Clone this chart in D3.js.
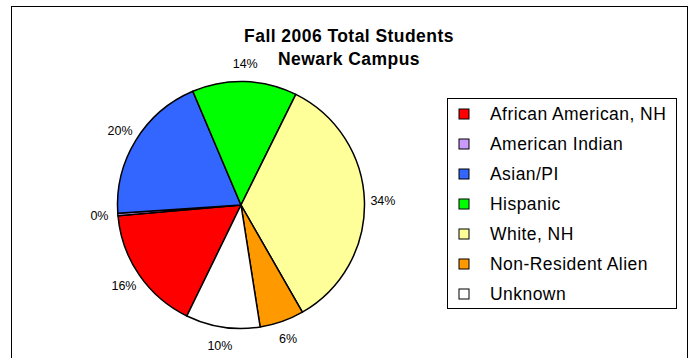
<!DOCTYPE html>
<html>
<head>
<meta charset="utf-8">
<script src="https://cdn.jsdelivr.net/npm/d3@7"></script>
<style>
  html, body { margin: 0; padding: 0; background: #fff; }
  svg { display: block; font-family: "Liberation Sans", Arial, sans-serif; }
</style>
</head>
<body>
<svg id="chart" width="696" height="358"></svg>
<script>
// Enrollment by ethnicity, Fall 2006, Newark campus (share of total, %)
const categories = [
  "African American, NH",
  "American Indian",
  "Asian/PI",
  "Hispanic",
  "White, NH",
  "Non-Resident Alien",
  "Unknown"
];
const shares = [16.4, 0.3, 19.7, 13.7, 34.4, 5.8, 9.7];
const colors = ["#FF0000", "#CC99FF", "#3366FF", "#00FF00", "#FFFF99", "#FF9900", "#FFFFFF"];
const titleLines = ["Fall 2006 Total Students", "Newark Campus"];

const svg = d3.select("#chart");

// chart frame
svg.append("rect")
  .attr("x", 11.5).attr("y", 6.5)
  .attr("width", 676).attr("height", 360)
  .attr("fill", "#fff").attr("stroke", "#000").attr("stroke-width", 1);

// title
svg.append("g").selectAll("text")
  .data(titleLines)
  .join("text")
  .attr("x", 349)
  .attr("y", (d, i) => 41.5 + i * 23.5)
  .attr("text-anchor", "middle")
  .attr("font-size", 17.5)
  .attr("font-weight", "bold")
  .attr("letter-spacing", 0.45)
  .text(d => d);

// pie
const cx = 241, cy = 205, radius = 123.5, labelRadius = 142;
const rot = 206 * Math.PI / 180;
const rows = categories.map((c, i) => ({ name: c, value: shares[i], color: colors[i] }));
const total = d3.sum(shares);

const pie = d3.pie().sort(null).value(d => d.value)
  .startAngle(rot).endAngle(rot + 2 * Math.PI);
const arcs = pie(rows);
const arc = d3.arc().innerRadius(0).outerRadius(radius);
const labelArc = d3.arc().innerRadius(labelRadius).outerRadius(labelRadius);

const pg = svg.append("g").attr("transform", `translate(${cx},${cy})`);
pg.selectAll("path")
  .data(arcs)
  .join("path")
  .attr("d", arc)
  .attr("fill", d => d.data.color)
  .attr("stroke", "#000")
  .attr("stroke-width", 1.5)
  .attr("stroke-linejoin", "round");

pg.selectAll("text")
  .data(arcs)
  .join("text")
  .attr("transform", d => `translate(${labelArc.centroid(d)})`)
  .attr("text-anchor", "middle")
  .attr("dy", "0.36em")
  .attr("font-size", 12.5)
  .attr("fill", "#000")
  .text(d => Math.round(d.data.value / total * 100) + "%");

// legend
const lg = svg.append("g");
lg.append("rect")
  .attr("x", 447.5).attr("y", 98.5)
  .attr("width", 229).attr("height", 210)
  .attr("fill", "#fff").attr("stroke", "#000").attr("stroke-width", 1);

const item = lg.selectAll("g.item")
  .data(rows)
  .join("g")
  .attr("class", "item")
  .attr("transform", (d, i) => `translate(0,${114 + i * 30})`);

item.append("rect")
  .attr("x", 459).attr("y", -5)
  .attr("width", 10).attr("height", 10)
  .attr("fill", d => d.color)
  .attr("stroke", "#000").attr("stroke-width", 1);

item.append("text")
  .attr("x", 490)
  .attr("y", 6)
  .attr("font-size", 17.5)
  .attr("letter-spacing", 0.45)
  .attr("fill", "#000")
  .text(d => d.name);
</script>
</body>
</html>
